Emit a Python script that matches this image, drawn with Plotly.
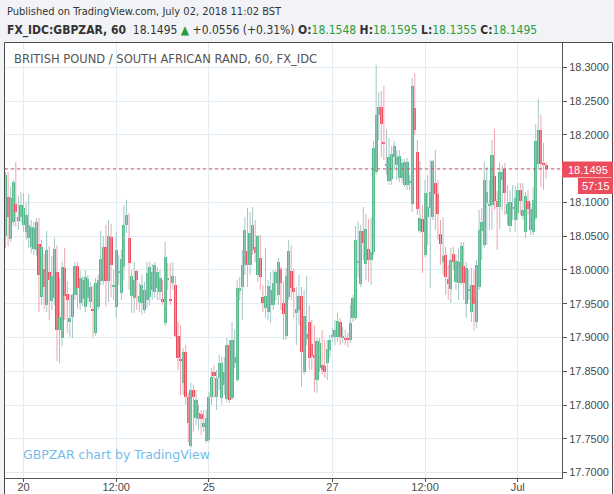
import plotly.graph_objects as go

# ---------------- data (GBPZAR, 60 min candles) ----------------
opens = [
    18.0503, 18.1080, 18.0459, 18.0710, 18.0977, 18.0725, 18.0784, 18.0666, 18.0562, 18.0474,
    18.0340, 18.0311, 18.0296, 18.0385, 17.9600, 18.0015, 17.9482, 17.9970, 17.9541, 17.9586,
    17.9970, 17.9112, 17.8994, 18.0030, 17.9645, 17.9230, 17.9304, 17.9630, 18.0059, 17.9512,
    17.9571, 17.9452, 17.9586, 17.9526, 17.9423, 17.9068, 17.9452, 17.9837, 17.9837, 18.0340,
    17.9837, 18.0488, 17.9748, 17.9452, 17.9956, 17.9660, 18.0044, 18.0666, 18.0474, 17.9615,
    17.9586, 17.9985, 17.9526, 17.9512, 17.9408, 17.9556, 17.9600, 17.9704, 17.9674, 17.9734,
    17.9674, 17.9571, 17.9216, 17.9852, 17.9571, 17.9808, 17.9778, 17.9023, 17.8683, 17.8328,
    17.8786, 17.8120, 17.7395, 17.8224, 17.7810, 17.7795, 17.7869, 17.7676, 17.7469, 17.7484,
    17.8120, 17.8490, 17.8120, 17.8402, 17.8106, 17.8298, 17.8091, 17.8890, 17.8106, 17.8624,
    17.8372, 17.9689, 17.9748, 18.0074, 18.0281, 18.0074, 18.0296, 18.0340, 17.9926, 18.0178,
    17.9600, 17.9438, 17.9378, 17.9482, 17.9482, 17.9808, 17.9630, 18.0015, 17.9512, 17.9023,
    17.9600, 17.9985, 17.9734, 17.9364, 17.9408, 17.9615, 17.8490, 17.8979, 17.9230, 17.8905,
    17.8742, 17.8372, 17.8550, 17.8594, 17.8579, 17.8624, 17.8816, 17.9008, 17.9008, 17.9008,
    17.9230, 17.8994, 17.8994, 17.8994, 17.8964, 17.9290, 17.9290, 18.0104, 17.9793, 18.0577,
    18.0089, 18.0311, 18.0148, 18.0266, 18.1450, 18.2294, 18.2412, 18.1894, 18.1539, 18.1317,
    18.1347, 18.1672, 18.1554, 18.1362, 18.1362, 18.1258, 18.1258, 18.1288, 18.0977, 18.2398,
    18.1746, 18.0577, 18.0755, 18.0222, 18.0784, 18.0918, 18.0784, 18.1288, 18.1125, 18.0533,
    18.0118, 18.0222, 17.9867, 17.9719, 18.0237, 17.9822, 17.9808, 17.9808, 18.0059, 17.9497,
    17.9689, 17.9378, 17.9778, 17.9230, 17.9748, 18.0577, 18.0370, 18.0992, 18.0947, 18.0962,
    18.1391, 18.1021, 18.0932, 18.1332, 18.1495, 18.0829, 18.0651, 18.0903, 18.0740, 18.0844,
    18.1184, 18.0799, 18.0562, 18.1021, 18.0592, 18.0562, 18.0770, 18.1569, 18.2072, 18.1584,
    18.1548,
]
highs = [
    18.1450, 18.1450, 18.1228, 18.1332, 18.1598, 18.1095, 18.1154, 18.1140, 18.0992, 18.1125,
    18.0740, 18.0710, 18.0770, 18.0770, 18.0444, 18.0237, 18.0577, 18.0355, 18.0207, 18.0474,
    18.0370, 17.9882, 18.0118, 18.0326, 17.9837, 17.9645, 17.9645, 18.0118, 18.0118, 18.0000,
    17.9911, 18.0000, 17.9926, 17.9822, 17.9778, 17.9882, 17.9926, 18.0577, 18.0503, 18.0666,
    18.0740, 18.0681, 18.0000, 18.0562, 18.0222, 18.0296, 18.0962, 18.1036, 18.0844, 18.0000,
    18.0118, 18.0000, 17.9808, 17.9926, 17.9822, 18.0118, 18.0118, 18.0089, 18.0118, 18.0044,
    18.0000, 17.9852, 18.0414, 18.0104, 18.0104, 18.0118, 17.9911, 17.9230, 17.9186, 17.8846,
    17.8890, 17.8180, 17.8328, 17.8298, 17.8224, 17.8002, 17.7928, 17.7928, 17.7928, 17.8194,
    17.8550, 17.8594, 17.8520, 17.8742, 17.8712, 17.8712, 17.8994, 17.8964, 17.9230, 17.9112,
    17.9852, 17.9896, 18.0296, 18.0784, 18.0918, 18.0858, 18.0932, 18.0740, 18.0518, 18.0518,
    17.9778, 18.0326, 17.9852, 17.9970, 18.0000, 18.0000, 18.0178, 18.0044, 17.9822, 18.0030,
    18.0444, 18.0370, 18.0030, 17.9748, 17.9926, 17.9748, 17.9704, 17.9911, 17.9482, 17.9260,
    17.9186, 17.8994, 17.8994, 17.9112, 17.8964, 17.8964, 17.9038, 17.9142, 17.9260, 17.9364,
    17.9290, 17.9156, 17.9112, 17.9068, 17.9482, 17.9630, 18.0651, 18.0725, 18.0666, 18.0932,
    18.0829, 18.0755, 18.0770, 18.1909, 18.3034, 18.2634, 18.2649, 18.2723, 18.2087, 18.1954,
    18.1835, 18.1909, 18.1776, 18.1776, 18.1643, 18.1643, 18.1658, 18.1406, 18.2842, 18.2916,
    18.1924, 18.1613, 18.0962, 18.1332, 18.1406, 18.1628, 18.1628, 18.1776, 18.1332, 18.0740,
    18.0784, 18.0340, 18.0074, 18.0326, 18.0340, 18.0222, 18.0311, 18.0414, 18.0414, 18.0118,
    18.0000, 18.0030, 18.0000, 18.0148, 18.0888, 18.0918, 18.1598, 18.1524, 18.1332, 18.1924,
    18.2087, 18.1169, 18.1598, 18.1554, 18.1584, 18.1258, 18.1184, 18.1258, 18.1243, 18.1288,
    18.1288, 18.1288, 18.1154, 18.1184, 18.0992, 18.1228, 18.2161, 18.2531, 18.2294, 18.1880,
    18.1595,
]
lows = [
    18.0326, 18.0355, 18.0414, 18.0651, 18.0636, 18.0592, 18.0710, 18.0562, 18.0444, 18.0326,
    18.0252, 18.0222, 18.0207, 17.9378, 17.9482, 17.9423, 17.9378, 17.9260, 17.9408, 17.9482,
    17.8653, 17.8624, 17.8875, 17.9260, 17.9068, 17.9008, 17.8994, 17.9556, 17.9423, 17.9408,
    17.9467, 17.9378, 17.9497, 17.9438, 17.9008, 17.9023, 17.9408, 17.9778, 17.9778, 17.9452,
    17.9526, 17.9600, 17.9556, 17.9290, 17.9778, 17.9556, 17.9852, 18.0548, 17.9704, 17.9364,
    17.9364, 17.9408, 17.9378, 17.9334, 17.9364, 17.9438, 17.9482, 17.9556, 17.9586, 17.9556,
    17.9556, 17.9482, 17.9171, 17.9704, 17.9482, 17.9704, 17.9008, 17.8520, 17.8150, 17.8150,
    17.8002, 17.7454, 17.7366, 17.7602, 17.7706, 17.7632, 17.7558, 17.7602, 17.7440, 17.7454,
    17.8002, 17.8106, 17.7928, 17.8224, 17.8002, 17.8150, 17.8046, 17.8032, 17.8076, 17.8550,
    17.8342, 17.9556, 17.9260, 17.9926, 17.9748, 17.9926, 18.0222, 18.0118, 17.9822, 17.9704,
    17.9378, 17.9290, 17.9260, 17.9216, 17.9408, 17.9556, 17.9482, 17.9408, 17.8964, 17.8964,
    17.9556, 17.9556, 17.9290, 17.8890, 17.9186, 17.8268, 17.8446, 17.8890, 17.8520, 17.8520,
    17.8194, 17.8180, 17.8490, 17.8446, 17.8402, 17.8372, 17.8712, 17.8934, 17.8890, 17.8934,
    17.8890, 17.8920, 17.8890, 17.8860, 17.8920, 17.9230, 17.9260, 17.9896, 17.9748, 18.0148,
    17.9852, 17.9822, 17.9778, 18.0222, 18.1406, 18.1924, 18.1672, 18.1628, 18.1406, 18.1258,
    18.1258, 18.1480, 18.1332, 18.1302, 18.1288, 18.1228, 18.1184, 18.1184, 18.0858, 18.1998,
    18.0814, 18.0548, 17.9956, 18.0192, 18.0370, 17.9734, 18.0740, 18.0592, 18.0444, 18.0074,
    17.9926, 17.9630, 17.9556, 17.9512, 18.0000, 17.9704, 17.9556, 17.9778, 17.9556, 17.9290,
    17.9556, 17.9230, 17.9097, 17.9142, 17.9704, 18.0148, 18.0326, 18.0370, 18.0592, 18.0592,
    18.0888, 18.0296, 18.0607, 18.0888, 18.0814, 18.0666, 18.0562, 18.0740, 18.0562, 18.0740,
    18.0814, 18.0740, 18.0474, 18.0814, 18.0518, 18.0518, 18.0740, 18.1480, 18.1228, 18.1184,
    18.1355,
]
closes = [
    18.1406, 18.0784, 18.1066, 18.1302, 18.0858, 18.0784, 18.0962, 18.0918, 18.0814, 18.0666,
    18.0636, 18.0622, 18.0710, 17.9926, 18.0340, 17.9748, 18.0296, 17.9852, 17.9911, 18.0311,
    17.9112, 17.9304, 18.0044, 17.9615, 17.9556, 17.9290, 17.9630, 18.0059, 17.9734, 17.9882,
    17.9852, 17.9896, 17.9867, 17.9748, 17.9393, 17.9808, 17.9852, 18.0163, 18.0340, 17.9837,
    18.0503, 18.0074, 17.9778, 18.0296, 17.9985, 18.0163, 18.0666, 18.0814, 18.0104, 17.9911,
    17.9852, 17.9852, 17.9615, 17.9778, 17.9704, 17.9956, 18.0044, 17.9970, 18.0074, 17.9970,
    17.9882, 17.9526, 18.0192, 17.9882, 17.9541, 17.9911, 17.9023, 17.8698, 17.8653, 17.8786,
    17.8120, 17.7736, 17.8224, 17.8120, 17.8076, 17.7884, 17.7795, 17.7736, 17.7810, 17.8120,
    17.8416, 17.8431, 17.8402, 17.8624, 17.8624, 17.8490, 17.8890, 17.8076, 17.8964, 17.8712,
    17.9734, 17.9734, 18.0074, 18.0592, 18.0074, 18.0548, 18.0666, 18.0252, 18.0503, 17.9896,
    17.9512, 17.9615, 17.9763, 17.9704, 17.9808, 17.9970, 18.0118, 17.9808, 17.9349, 17.9911,
    18.0281, 17.9734, 17.9674, 17.9423, 17.9615, 17.8786, 17.9319, 17.9053, 17.8698, 17.8727,
    17.8698, 17.8949, 17.8920, 17.8520, 17.8490, 17.8831, 17.8964, 17.9038, 17.9112, 17.9245,
    17.9008, 17.9023, 17.8964, 17.8964, 17.9216, 17.9586, 18.0444, 18.0133, 18.0577, 18.0400,
    18.0607, 18.0148, 18.0266, 18.1806, 18.2294, 18.2412, 18.2161, 18.1865, 18.1569, 18.1672,
    18.1717, 18.1835, 18.1672, 18.1687, 18.1584, 18.1598, 18.1598, 18.1317, 18.2723, 18.2072,
    18.0903, 18.0770, 18.0562, 18.1140, 18.0932, 18.1154, 18.1613, 18.1125, 18.0829, 18.0385,
    18.0207, 17.9896, 17.9793, 18.0148, 18.0118, 18.0133, 18.0118, 18.0355, 17.9808, 18.0030,
    17.9719, 17.9778, 17.9497, 18.0074, 18.0592, 18.0710, 18.1332, 18.1154, 18.0977, 18.1702,
    18.1021, 18.0932, 18.1450, 18.1450, 18.1140, 18.0977, 18.1006, 18.0932, 18.1066, 18.1184,
    18.1021, 18.0888, 18.1095, 18.0903, 18.0903, 18.1036, 18.1909, 18.2072, 18.1569, 18.1554,
    18.1495,
]
# x axis: hourly bar index, labels at these bars
tick_bars = [7, 43, 79, 127, 163, 199]
tick_labels = ["20", "12:00", "25", "27", "12:00", "Jul"]
y_ticks_start, y_ticks_end, y_ticks_step = 17.70, 18.30, 0.05

header_line1 = "Published on TradingView.com, July 02, 2018 11:02 BST"
symbol = "FX_IDC:GBPZAR, 60"
last_price = "18.1495"
change = "+0.0556 (+0.31%)"
ohlc_text = [("O", "18.1548"), ("H", "18.1595"), ("L", "18.1355"), ("C", "18.1495")]
chart_title = "BRITISH POUND / SOUTH AFRICAN RAND, 60, FX_IDC"
watermark = "GBPZAR chart by TradingView"
countdown = "57:15"

# ---------------- styling ----------------
UP_BODY, DN_BODY = "#53b987", "#eb4d5c"
UP_WICK, DN_WICK = "#a3c6c7", "#f3a2aa"
GRID = "#e3ecf2"
AXIS = "#555555"
TXT = "#4a4a4a"
HDR_GREEN = "#2a9d3a"

W, H = 614, 494
L_PX, R_PX, T_PX, B_PX = 5, 562, 43, 478


def PX(x):
    return (x - L_PX) / (R_PX - L_PX)


def PY(y):
    return (B_PX - y) / (B_PX - T_PX)


n = len(closes)
idx = list(range(n))
up = [closes[i] >= opens[i] for i in idx]

fig = go.Figure()

# wicks
for is_up, col in ((True, UP_WICK), (False, DN_WICK)):
    xs, ys = [], []
    for i in idx:
        if up[i] == is_up:
            xs += [i, i, None]
            ys += [lows[i], highs[i], None]
    fig.add_trace(go.Scatter(x=xs, y=ys, mode="lines", line=dict(color=col, width=1),
                             hoverinfo="skip", showlegend=False))

# bodies
base = [min(opens[i], closes[i]) for i in idx]
height = [max(abs(closes[i] - opens[i]), 0.0015) for i in idx]
fig.add_trace(go.Bar(x=idx, y=height, base=base, width=1.2,
                     marker=dict(color=[UP_BODY if u else DN_BODY for u in up], line=dict(width=0)),
                     hoverinfo="skip", showlegend=False))

y_vals = []
v = y_ticks_start
while v <= y_ticks_end + 1e-9:
    y_vals.append(round(v, 4))
    v += y_ticks_step

fig.update_layout(
    width=W, height=H,
    margin=dict(l=L_PX, r=W - R_PX, t=T_PX, b=H - B_PX, pad=0, autoexpand=False),
    paper_bgcolor="#f1f3f7", plot_bgcolor="#ffffff",
    showlegend=False,
    xaxis=dict(range=[-0.2, 216.2], tickvals=tick_bars, ticktext=tick_labels,
               showgrid=True, gridcolor=GRID, gridwidth=1, zeroline=False,
               ticks="outside", ticklen=3, tickcolor=AXIS, showline=True, linecolor=AXIS,
               tickfont=dict(family="Liberation Sans, Arial", size=11, color=TXT),
               ticklabelstandoff=-4, automargin=False, fixedrange=True),
    yaxis=dict(range=[17.692, 18.336], side="right", tickvals=y_vals,
               tickformat=".4f", showgrid=True, gridcolor=GRID, gridwidth=1, zeroline=False,
               ticks="outside", ticklen=4, tickcolor=AXIS, showline=True, linecolor=AXIS,
               tickfont=dict(family="Liberation Sans, Arial", size=11, color=TXT),
               automargin=False, fixedrange=True),
    bargap=0,
)

shapes = [
    # white chart pane with frame
    dict(type="rect", xref="paper", yref="paper", x0=PX(4.5), x1=PX(612.5), y0=PY(500), y1=PY(42.5),
         fillcolor="#ffffff", line=dict(color="#4a4a4a", width=1), layer="below"),
    # last price dotted line
    dict(type="line", xref="x", yref="y", x0=-0.2, x1=216.2, y0=closes[-1], y1=closes[-1],
         line=dict(color="#e5485a", width=1, dash="dot")),
    # price label
    dict(type="rect", xref="paper", yref="paper", x0=PX(562), x1=PX(613), y0=PY(177.5), y1=PY(161.5),
         fillcolor="#ec4c5c", line=dict(width=0)),
    dict(type="rect", xref="paper", yref="paper", x0=PX(578), x1=PX(613), y0=PY(194), y1=PY(178),
         fillcolor="#ec4c5c", line=dict(width=0)),
]
fig.update_layout(shapes=shapes)

g = lambda s: f"<span style='color:{HDR_GREEN}'>{s}</span>"
line2 = (f"<b>{symbol}</b>  {last_price} {g('▲')} {change} "
         + " ".join(f"<b>{k}:</b>{g(val)}" for k, val in ohlc_text))

HDR_FONT = "Liberation Sans Narrow, DejaVu Sans Condensed, Liberation Sans"
ann = [
    dict(text=header_line1, x=PX(5), y=PY(11), xanchor="left", yanchor="middle",
         font=dict(family=HDR_FONT, size=11, color="#333333")),
    dict(text=line2, x=PX(5), y=PY(31), xanchor="left", yanchor="middle",
         font=dict(family=HDR_FONT, size=12, color="#333333")),
    dict(text=chart_title, x=PX(12), y=PY(59), xanchor="left", yanchor="middle",
         font=dict(family="DejaVu Sans", size=11.5, color="#555555")),
    dict(text=watermark, x=PX(21), y=PY(454), xanchor="left", yanchor="middle",
         font=dict(family="DejaVu Sans", size=12.5, color="#74bdea")),
    dict(text=last_price, x=PX(588), y=PY(169.5), xanchor="center", yanchor="middle",
         font=dict(family="Liberation Sans, Arial", size=11, color="#ffffff")),
    dict(text=countdown, x=PX(596), y=PY(186), xanchor="center", yanchor="middle",
         font=dict(family="Liberation Sans, Arial", size=11, color="#ffffff")),
]
for a in ann:
    a.update(xref="paper", yref="paper", showarrow=False)
fig.update_layout(annotations=ann)

fig.write_html("out.html", config={"displayModeBar": False})

# remove the browser's default page margin so the figure sits at the window origin
with open("out.html", "r", encoding="utf-8") as fh:
    html = fh.read()
html = html.replace("<body>", "<body style=\"margin:0;padding:0;overflow:hidden;\">", 1)
with open("out.html", "w", encoding="utf-8") as fh:
    fh.write(html)
